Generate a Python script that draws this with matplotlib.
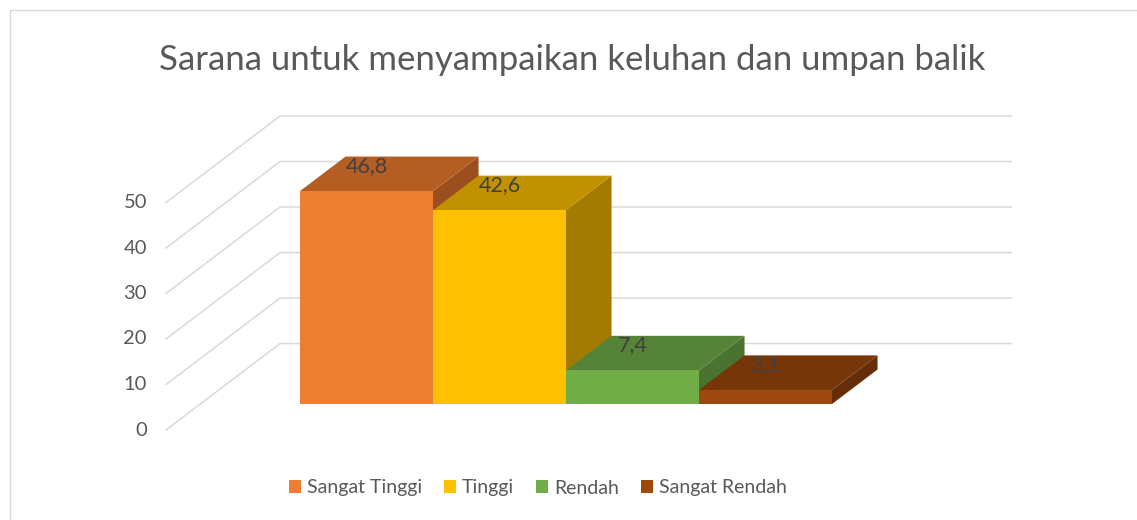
import matplotlib.pyplot as plt
from matplotlib.patches import Polygon, Patch, Rectangle

# data
series = ['Sangat Tinggi', 'Tinggi', 'Rendah', 'Sangat Rendah']
values = [46.8, 42.6, 7.4, 3.1]
labels = ['46,8', '42,6', '7,4', '3,1']
ticks = [0, 10, 20, 30, 40, 50]

front_col = ['#ED7D31', '#FFC000', '#70AD47', '#9E480E']
top_col = ['#B55E23', '#C29100', '#558337', '#77360A']
side_col = ['#9C4F1E', '#A37B00', '#4A7230', '#662E08']

# oblique 3d: one x unit = one bar width, depth z in 0..1
DX = 0.857
DY = 19.0
floor_w = 5.5
bar_x0 = 0.75
z0, z1 = 0.3, 0.7


def proj(x, v, z):
    return (x + z * DX, v + z * DY)


plt.rcParams['font.family'] = ['Lato', 'DejaVu Sans']

fig = plt.figure(figsize=(11.37, 5.2), dpi=100)
ax = fig.add_axes([0, 0, 1, 1])
ax.set_xlim(-166 / 133, (1137 - 166) / 133)
ax.set_ylim(-90 / 4.55, 430 / 4.55)
ax.axis('off')

# chart border
fig.patches.append(Rectangle((10 / 1137, -0.1), 1.2, 1 - 10 / 520 + 0.1,
                             transform=fig.transFigure, fill=False,
                             edgecolor='#D9D9D9', lw=1.0))

grid_c = '#D9D9D9'
for t in ticks:
    a = proj(0, t, 0)
    b = proj(0, t, 1)
    c = proj(floor_w, t, 1)
    ax.plot([a[0], b[0], c[0]], [a[1], b[1], c[1]], color=grid_c, lw=1.1, zorder=1)
    ax.text(-0.143, t, str(t), ha='right', va='center', fontsize=14.5,
            color='#595959')

for i, v in enumerate(values):
    xl = bar_x0 + i
    xr = xl + 1
    side = [proj(xr, 0, z0), proj(xr, 0, z1), proj(xr, v, z1), proj(xr, v, z0)]
    top = [proj(xl, v, z0), proj(xr, v, z0), proj(xr, v, z1), proj(xl, v, z1)]
    front = [proj(xl, 0, z0), proj(xr, 0, z0), proj(xr, v, z0), proj(xl, v, z0)]
    ax.add_patch(Polygon(side, closed=True, fc=side_col[i], ec='none', zorder=2))
    ax.add_patch(Polygon(top, closed=True, fc=top_col[i], ec='none', zorder=2))
    ax.add_patch(Polygon(front, closed=True, fc=front_col[i], ec='none', zorder=2))
    lx, ly = proj(xl + 0.5, v, z0)
    ax.text(lx, ly + 25 / 4.55, labels[i], ha='center', va='center',
            fontsize=15.5, color='#404040', zorder=5)

fig.text(572 / 1137, 1 - 70 / 520, 'Sarana untuk menyampaikan keluhan dan umpan balik',
         ha='center', va='baseline', fontsize=25, color='#595959')

handles = [Patch(facecolor=c, edgecolor='none') for c in front_col]
fig.legend(handles, series, loc='center', bbox_to_anchor=(538 / 1137, 1 - 488 / 520),
           ncol=4, frameon=False, fontsize=14, handlelength=0.6, handleheight=0.6,
           handletextpad=0.3, columnspacing=1.15, labelcolor='#595959',
           borderpad=0, borderaxespad=0)

fig.savefig('out.png', dpi=100)
